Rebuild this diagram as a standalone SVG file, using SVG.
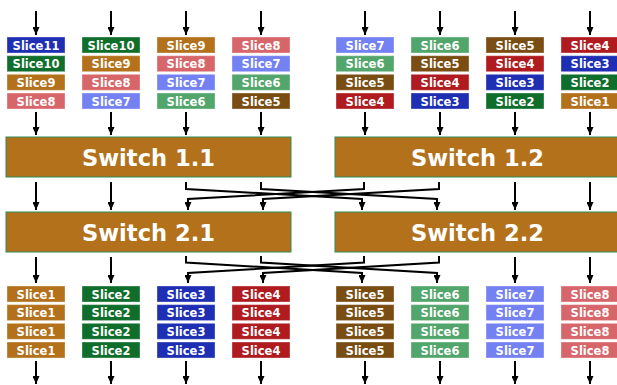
<svg xmlns="http://www.w3.org/2000/svg" width="617" height="385" viewBox="0 0 617 385">
<defs>
<style>
.s rect{stroke:#ffffff;stroke-opacity:0.35;stroke-width:1}
.s text{font-family:"DejaVu Sans","Liberation Sans",sans-serif;font-weight:bold;font-size:11.5px;fill:#fff;text-anchor:middle}
.sw rect{fill:#b3711c;stroke:#2e8b57;stroke-width:1}
.sw text{font-family:"DejaVu Sans","Liberation Sans",sans-serif;font-weight:bold;font-size:22.6px;fill:#fff;text-anchor:middle}
.c1{fill:#b3711c}.c2{fill:#0f6e2b}.c3{fill:#1e2fb3}.c4{fill:#b01b1f}
.c5{fill:#7a4d13}.c6{fill:#53a66b}.c7{fill:#7381f2}.c8{fill:#d7666a}.c10{fill:#0f6e2b}.c11{fill:#1e2fb3}.c9{fill:#b3711c}
#conn path{fill:none;stroke:#000;stroke-width:2;marker-end:url(#ah)}
</style>
<marker id="ah" markerUnits="userSpaceOnUse" markerWidth="8" markerHeight="7" refX="8" refY="3.5" orient="auto">
<path d="M0,0 L8,3.5 L0,7 Z" fill="#000"/>
</marker>
</defs>
<rect width="617" height="385" fill="#fff"/>

<g id="conn">
<path d="M36,11V35"/><path d="M111,11V35"/><path d="M186,11V35"/><path d="M261,11V35"/>
<path d="M365,11V35"/><path d="M440,11V35"/><path d="M515,11V35"/><path d="M590,11V35"/>
<path d="M36,112V135"/><path d="M111,112V135"/><path d="M186,112V135"/><path d="M261,112V135"/>
<path d="M365,112V135"/><path d="M440,112V135"/><path d="M515,112V135"/><path d="M590,112V135"/>
<path d="M36,182V210"/><path d="M111,182V210"/><path d="M515,182V210"/><path d="M590,182V210"/>
<path d="M186,182V189L362,199V210"/>
<path d="M261,182V189L437,199V210"/>
<path d="M364,182V189L188,199V210"/>
<path d="M439,182V189L263,199V210"/>
<path d="M36,257V283"/><path d="M111,257V283"/><path d="M515,257V283"/><path d="M590,257V283"/>
<path d="M186,256V262.5L362,273V283"/>
<path d="M261,256V262.5L437,273V283"/>
<path d="M364,256V262.5L188,273V283"/>
<path d="M439,256V262.5L263,273V283"/>
<path d="M36,361V384"/><path d="M111,361V384"/><path d="M186,361V384"/><path d="M261,361V384"/>
<path d="M365,361V384"/><path d="M440,361V384"/><path d="M515,361V384"/><path d="M590,361V384"/>
</g>

<g id="switch11" class="sw"><rect x="6" y="137" width="285" height="40"/><text x="148.5" y="166">Switch 1.1</text></g>
<g id="switch12" class="sw"><rect x="335" y="137" width="285" height="40"/><text x="477.5" y="166">Switch 1.2</text></g>
<g id="switch21" class="sw"><rect x="6" y="212" width="285" height="40"/><text x="148.5" y="241">Switch 2.1</text></g>
<g id="switch22" class="sw"><rect x="335" y="212" width="285" height="40"/><text x="477.5" y="241">Switch 2.2</text></g>

<!-- top column 1 -->
<g id="t1a" class="s"><rect class="c11" x="7" y="37" width="58" height="16"/><text x="36" y="49.5">Slice11</text></g>
<g id="t1b" class="s"><rect class="c10" x="7" y="55.7" width="58" height="16"/><text x="36" y="68.2">Slice10</text></g>
<g id="t1c" class="s"><rect class="c9" x="7" y="74.3" width="58" height="16"/><text x="36" y="86.8">Slice9</text></g>
<g id="t1d" class="s"><rect class="c8" x="7" y="93" width="58" height="16"/><text x="36" y="105.5">Slice8</text></g>
<!-- top column 2 -->
<g id="t2a" class="s"><rect class="c10" x="82" y="37" width="58" height="16"/><text x="111" y="49.5">Slice10</text></g>
<g id="t2b" class="s"><rect class="c9" x="82" y="55.7" width="58" height="16"/><text x="111" y="68.2">Slice9</text></g>
<g id="t2c" class="s"><rect class="c8" x="82" y="74.3" width="58" height="16"/><text x="111" y="86.8">Slice8</text></g>
<g id="t2d" class="s"><rect class="c7" x="82" y="93" width="58" height="16"/><text x="111" y="105.5">Slice7</text></g>
<!-- top column 3 -->
<g id="t3a" class="s"><rect class="c9" x="157" y="37" width="58" height="16"/><text x="186" y="49.5">Slice9</text></g>
<g id="t3b" class="s"><rect class="c8" x="157" y="55.7" width="58" height="16"/><text x="186" y="68.2">Slice8</text></g>
<g id="t3c" class="s"><rect class="c7" x="157" y="74.3" width="58" height="16"/><text x="186" y="86.8">Slice7</text></g>
<g id="t3d" class="s"><rect class="c6" x="157" y="93" width="58" height="16"/><text x="186" y="105.5">Slice6</text></g>
<!-- top column 4 -->
<g id="t4a" class="s"><rect class="c8" x="232" y="37" width="58" height="16"/><text x="261" y="49.5">Slice8</text></g>
<g id="t4b" class="s"><rect class="c7" x="232" y="55.7" width="58" height="16"/><text x="261" y="68.2">Slice7</text></g>
<g id="t4c" class="s"><rect class="c6" x="232" y="74.3" width="58" height="16"/><text x="261" y="86.8">Slice6</text></g>
<g id="t4d" class="s"><rect class="c5" x="232" y="93" width="58" height="16"/><text x="261" y="105.5">Slice5</text></g>
<!-- top column 5 -->
<g id="t5a" class="s"><rect class="c7" x="336" y="37" width="58" height="16"/><text x="365" y="49.5">Slice7</text></g>
<g id="t5b" class="s"><rect class="c6" x="336" y="55.7" width="58" height="16"/><text x="365" y="68.2">Slice6</text></g>
<g id="t5c" class="s"><rect class="c5" x="336" y="74.3" width="58" height="16"/><text x="365" y="86.8">Slice5</text></g>
<g id="t5d" class="s"><rect class="c4" x="336" y="93" width="58" height="16"/><text x="365" y="105.5">Slice4</text></g>
<!-- top column 6 -->
<g id="t6a" class="s"><rect class="c6" x="411" y="37" width="58" height="16"/><text x="440" y="49.5">Slice6</text></g>
<g id="t6b" class="s"><rect class="c5" x="411" y="55.7" width="58" height="16"/><text x="440" y="68.2">Slice5</text></g>
<g id="t6c" class="s"><rect class="c4" x="411" y="74.3" width="58" height="16"/><text x="440" y="86.8">Slice4</text></g>
<g id="t6d" class="s"><rect class="c3" x="411" y="93" width="58" height="16"/><text x="440" y="105.5">Slice3</text></g>
<!-- top column 7 -->
<g id="t7a" class="s"><rect class="c5" x="486" y="37" width="58" height="16"/><text x="515" y="49.5">Slice5</text></g>
<g id="t7b" class="s"><rect class="c4" x="486" y="55.7" width="58" height="16"/><text x="515" y="68.2">Slice4</text></g>
<g id="t7c" class="s"><rect class="c3" x="486" y="74.3" width="58" height="16"/><text x="515" y="86.8">Slice3</text></g>
<g id="t7d" class="s"><rect class="c2" x="486" y="93" width="58" height="16"/><text x="515" y="105.5">Slice2</text></g>
<!-- top column 8 -->
<g id="t8a" class="s"><rect class="c4" x="561" y="37" width="58" height="16"/><text x="590" y="49.5">Slice4</text></g>
<g id="t8b" class="s"><rect class="c3" x="561" y="55.7" width="58" height="16"/><text x="590" y="68.2">Slice3</text></g>
<g id="t8c" class="s"><rect class="c2" x="561" y="74.3" width="58" height="16"/><text x="590" y="86.8">Slice2</text></g>
<g id="t8d" class="s"><rect class="c1" x="561" y="93" width="58" height="16"/><text x="590" y="105.5">Slice1</text></g>

<!-- bottom columns -->
<g id="b1a" class="s"><rect class="c1" x="7" y="286" width="58" height="16"/><text x="36" y="298.5">Slice1</text></g>
<g id="b1b" class="s"><rect class="c1" x="7" y="304.6" width="58" height="16"/><text x="36" y="317.1">Slice1</text></g>
<g id="b1c" class="s"><rect class="c1" x="7" y="323.3" width="58" height="16"/><text x="36" y="335.8">Slice1</text></g>
<g id="b1d" class="s"><rect class="c1" x="7" y="342" width="58" height="16"/><text x="36" y="354.5">Slice1</text></g>
<g id="b2a" class="s"><rect class="c2" x="82" y="286" width="58" height="16"/><text x="111" y="298.5">Slice2</text></g>
<g id="b2b" class="s"><rect class="c2" x="82" y="304.6" width="58" height="16"/><text x="111" y="317.1">Slice2</text></g>
<g id="b2c" class="s"><rect class="c2" x="82" y="323.3" width="58" height="16"/><text x="111" y="335.8">Slice2</text></g>
<g id="b2d" class="s"><rect class="c2" x="82" y="342" width="58" height="16"/><text x="111" y="354.5">Slice2</text></g>
<g id="b3a" class="s"><rect class="c3" x="157" y="286" width="58" height="16"/><text x="186" y="298.5">Slice3</text></g>
<g id="b3b" class="s"><rect class="c3" x="157" y="304.6" width="58" height="16"/><text x="186" y="317.1">Slice3</text></g>
<g id="b3c" class="s"><rect class="c3" x="157" y="323.3" width="58" height="16"/><text x="186" y="335.8">Slice3</text></g>
<g id="b3d" class="s"><rect class="c3" x="157" y="342" width="58" height="16"/><text x="186" y="354.5">Slice3</text></g>
<g id="b4a" class="s"><rect class="c4" x="232" y="286" width="58" height="16"/><text x="261" y="298.5">Slice4</text></g>
<g id="b4b" class="s"><rect class="c4" x="232" y="304.6" width="58" height="16"/><text x="261" y="317.1">Slice4</text></g>
<g id="b4c" class="s"><rect class="c4" x="232" y="323.3" width="58" height="16"/><text x="261" y="335.8">Slice4</text></g>
<g id="b4d" class="s"><rect class="c4" x="232" y="342" width="58" height="16"/><text x="261" y="354.5">Slice4</text></g>
<g id="b5a" class="s"><rect class="c5" x="336" y="286" width="58" height="16"/><text x="365" y="298.5">Slice5</text></g>
<g id="b5b" class="s"><rect class="c5" x="336" y="304.6" width="58" height="16"/><text x="365" y="317.1">Slice5</text></g>
<g id="b5c" class="s"><rect class="c5" x="336" y="323.3" width="58" height="16"/><text x="365" y="335.8">Slice5</text></g>
<g id="b5d" class="s"><rect class="c5" x="336" y="342" width="58" height="16"/><text x="365" y="354.5">Slice5</text></g>
<g id="b6a" class="s"><rect class="c6" x="411" y="286" width="58" height="16"/><text x="440" y="298.5">Slice6</text></g>
<g id="b6b" class="s"><rect class="c6" x="411" y="304.6" width="58" height="16"/><text x="440" y="317.1">Slice6</text></g>
<g id="b6c" class="s"><rect class="c6" x="411" y="323.3" width="58" height="16"/><text x="440" y="335.8">Slice6</text></g>
<g id="b6d" class="s"><rect class="c6" x="411" y="342" width="58" height="16"/><text x="440" y="354.5">Slice6</text></g>
<g id="b7a" class="s"><rect class="c7" x="486" y="286" width="58" height="16"/><text x="515" y="298.5">Slice7</text></g>
<g id="b7b" class="s"><rect class="c7" x="486" y="304.6" width="58" height="16"/><text x="515" y="317.1">Slice7</text></g>
<g id="b7c" class="s"><rect class="c7" x="486" y="323.3" width="58" height="16"/><text x="515" y="335.8">Slice7</text></g>
<g id="b7d" class="s"><rect class="c7" x="486" y="342" width="58" height="16"/><text x="515" y="354.5">Slice7</text></g>
<g id="b8a" class="s"><rect class="c8" x="561" y="286" width="58" height="16"/><text x="590" y="298.5">Slice8</text></g>
<g id="b8b" class="s"><rect class="c8" x="561" y="304.6" width="58" height="16"/><text x="590" y="317.1">Slice8</text></g>
<g id="b8c" class="s"><rect class="c8" x="561" y="323.3" width="58" height="16"/><text x="590" y="335.8">Slice8</text></g>
<g id="b8d" class="s"><rect class="c8" x="561" y="342" width="58" height="16"/><text x="590" y="354.5">Slice8</text></g>
</svg>
